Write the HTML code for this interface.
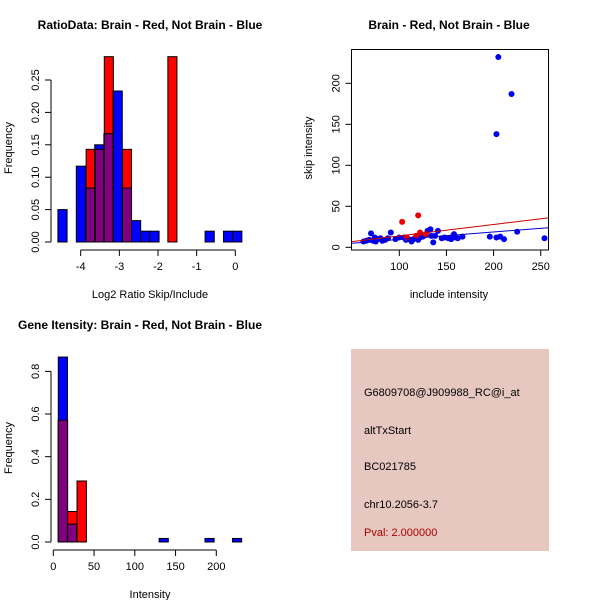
<!DOCTYPE html>
<html><head><meta charset="utf-8"><style>
body{margin:0;background:#fff}
svg{display:block;font-family:"Liberation Sans",sans-serif}
</style></head><body>
<svg id="c" width="600" height="600" xmlns="http://www.w3.org/2000/svg">
<rect width="600" height="600" fill="#fff"/>
<g id="p1"></g>
<g id="p2"></g>
<g id="p3"></g>
<g>
<rect x="351" y="349" width="198" height="202" fill="#e6c8c1"/>
<text x="364" y="396" font-size="11" fill="#000">G6809708@J909988_RC@i_at</text>
<text x="364" y="434" font-size="11" fill="#000">altTxStart</text>
<text x="364" y="470" font-size="11" fill="#000">BC021785</text>
<text x="364" y="508" font-size="11" fill="#000">chr10.2056-3.7</text>
<text x="364" y="536" font-size="11" fill="#aa0000">Pval: 2.000000</text>
</g>
</svg>
<script>
// Plot 1 data
const ratioBlueStart=-4.59, ratioBlueWidth=0.238;
const ratioBlueFreq=[0.05,0,0.117,0.083,0.15,0.167,0.233,0.083,0.033,0.0167,0.0167,0,0,0,0,0,0.0167,0,0.0167,0.0167];
const ratioRedStart=-3.86, ratioRedWidth=0.235;
const ratioRedFreq=[0.143,0.143,0.286,0,0.143,0,0,0,0,0.286];
const ratioXTicks=[-4,-3,-2,-1,0];
const ratioYTicks=[0,0.05,0.10,0.15,0.20,0.25];
const ratioYLabels=["0.00","0.05","0.10","0.15","0.20","0.25"];
// Plot 2 data
const blueInc=[62,65,68,70,72,74,75,77,80,82,85,88,91,96,100,105,107,110,113,115,118,120,122,125,128,130,133,134,136,138,141,145,148,152,155,157,158,160,162,167,196,203,207,211,225,254,205,219,203];
const blueSkip=[7,8,9,17,8,12,7,10,11,8,9,11,18,10,12,12,9,10,7,10,14,9,12,13,15,20,22,14,6,14,20,11,12,11,10,14,16,12,11,13,13,12,13,10,19,11,232,187,138];
const redInc=[103,120,122,118,108,128];
const redSkip=[31,39,18,14,12,16];
const fitRed=[0.03,0.139], fitBlue=[0.43,0.091];
const scXTicks=[100,150,200,250], scYTicks=[0,50,100,150,200];
// Plot 3 data
const intBlueStart=6.1, intBlueWidth=11.25;
const intBlueFreq=[0.867,0.083,0,0,0,0,0,0,0,0,0,0.0167,0,0,0,0,0.0167,0,0,0.0167];
const intRedStart=6.1, intRedWidth=11.5;
const intRedFreq=[0.571,0.143,0.286];
const intXTicks=[0,50,100,150,200];
const intYTicks=[0,0.2,0.4,0.6,0.8];
const intYLabels=["0.0","0.2","0.4","0.6","0.8"];

const NS="http://www.w3.org/2000/svg";
function mk(parent,tag,attrs,txt){const e=document.createElementNS(NS,tag);for(const k in attrs)e.setAttribute(k,attrs[k]);if(txt!==undefined)e.textContent=txt;parent.appendChild(e);return e;}

function hist(g,sx,sy,bs,bw,bf,rs,rw,rf){
  const reds=rf.map((v,i)=>({a:rs+i*rw,b:rs+(i+1)*rw,v}));
  const blues=bf.map((v,i)=>({a:bs+i*bw,b:bs+(i+1)*bw,v}));
  reds.forEach(r=>{if(r.v<=0)return;const e=mk(g,'rect',{x:sx(r.a),y:sy(r.v),width:sx(r.b)-sx(r.a),height:sy(0)-sy(r.v),fill:'#ff0000',stroke:'#000','stroke-width':1});
    });
  blues.forEach(r=>{if(r.v<=0)return;const e=mk(g,'rect',{x:sx(r.a),y:sy(r.v),width:sx(r.b)-sx(r.a),height:sy(0)-sy(r.v),fill:'#0000ff',stroke:'#000','stroke-width':1});
    });
  reds.forEach(r=>blues.forEach(b=>{const a=Math.max(r.a,b.a),c=Math.min(r.b,b.b),v=Math.min(r.v,b.v);
    if(c>a&&v>0){const e=mk(g,'rect',{x:sx(a),y:sy(v),width:sx(c)-sx(a),height:sy(0)-sy(v),fill:'#800080',stroke:'#000','stroke-width':1});
    }}));
}
function yaxis(g,x,sy,ticks,labels,y0,y1){
  mk(g,'line',{x1:x,x2:x,y1:sy(ticks[0]),y2:sy(ticks[ticks.length-1]),stroke:'#000'});
  ticks.forEach((t,i)=>{const y=sy(t);mk(g,'line',{x1:x,x2:x-6,y1:y,y2:y,stroke:'#000'});
    const e=mk(g,'text',{x:x-12,y:y,'font-size':11,'text-anchor':'middle',transform:`rotate(-90 ${x-12} ${y})`},labels[i]);
    });
}
function xaxis(g,y,sx,ticks,labels){
  mk(g,'line',{x1:sx(ticks[0]),x2:sx(ticks[ticks.length-1]),y1:y,y2:y,stroke:'#000'});
  ticks.forEach((t,i)=>{const x=sx(t);mk(g,'line',{x1:x,x2:x,y1:y,y2:y+6,stroke:'#000'});
    const e=mk(g,'text',{x:x,y:y+20,'font-size':11,'text-anchor':'middle'},labels[i]);
    });
}
function titles(g,t,tx,ty,xl,xlx,xly,yl,ylx,yly){
  let e=mk(g,'text',{x:tx,y:ty,'font-size':12,'font-weight':'bold','text-anchor':'middle'},t);
  
  e=mk(g,'text',{x:xlx,y:xly,'font-size':11,'text-anchor':'middle'},xl);
  
  e=mk(g,'text',{x:ylx,y:yly,'font-size':11,'text-anchor':'middle',transform:`rotate(-90 ${ylx} ${yly})`},yl);
  
}

// Plot 1
{const g=document.getElementById('p1');
 const sx=v=>80.7+(v+4)*38.65, sy=v=>242-v*648;
 hist(g,sx,sy,ratioBlueStart,ratioBlueWidth,ratioBlueFreq,ratioRedStart,ratioRedWidth,ratioRedFreq);
 yaxis(g,51,sy,ratioYTicks,ratioYLabels);
 xaxis(g,250,sx,ratioXTicks,ratioXTicks.map(String));
 titles(g,'RatioData: Brain - Red, Not Brain - Blue',150,29,'Log2 Ratio Skip/Include',150,298,'Frequency',12,148);}
// Plot 2
{const g=document.getElementById('p2');
 const sx=v=>399.3+(v-100)*0.943, sy=v=>247.3-v*0.82;
 mk(g,'rect',{x:351.5,y:49.5,width:197,height:200.5,fill:'none',stroke:'#000'});
 yaxis(g,351.5,sy,scYTicks,scYTicks.map(String));
 xaxis(g,250,sx,scXTicks,scXTicks.map(String));
 const line=(f,col,name)=>{const e=mk(g,'line',{x1:sx(49.5),y1:sy(f[0]+f[1]*49.5),x2:sx(258),y2:sy(f[0]+f[1]*258),stroke:col,'stroke-width':1});
   };
 blueInc.forEach((v,i)=>{const e=mk(g,'circle',{cx:sx(v),cy:sy(blueSkip[i]),r:3,fill:'#0000ee'});
   });
 redInc.forEach((v,i)=>{const e=mk(g,'circle',{cx:sx(v),cy:sy(redSkip[i]),r:3,fill:'#ee0000'});
   });
 line(fitRed,'#cc0000','fit-line-brain');line(fitBlue,'#0000cc','fit-line-not-brain');
 titles(g,'Brain - Red, Not Brain - Blue',449,29,'include intensity',449,298,'skip intensity',312,148);}
// Plot 3
{const g=document.getElementById('p3');
 const sx=v=>53.3+v*0.815, sy=v=>542-v*213.3;
 hist(g,sx,sy,intBlueStart,intBlueWidth,intBlueFreq,intRedStart,intRedWidth,intRedFreq);
 yaxis(g,51,sy,intYTicks,intYLabels);
 xaxis(g,550,sx,intXTicks,intXTicks.map(String));
 titles(g,'Gene Itensity: Brain - Red, Not Brain - Blue',140,329,'Intensity',150,598,'Frequency',12,448);}
</script>
</body></html>
